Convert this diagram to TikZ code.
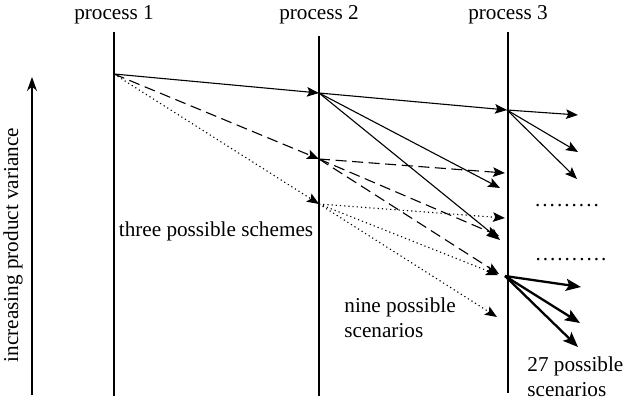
\documentclass[tikz,border=0pt]{standalone}
\usepackage{fontspec}
\setmainfont{Liberation Serif}
\usetikzlibrary{arrows.meta,positioning}
\newcommand{\dotrow}[1]{\foreach \k in {1,...,#1}{.\kern1.0pt}}
\tikzset{
  procline/.style={line width=0.7pt},
  lbl/.style={font=\fontsize{10.6}{12.5}\selectfont, inner sep=0pt},
  arr/.style={-{Stealth[length=6pt,width=4.8pt,inset=1.2pt]}, line width=0.55pt},
  dasharr/.style={arr, dash pattern=on 5.5pt off 2.8pt},
  dotarr/.style={arr, dash pattern=on 0.6pt off 1.5pt},
  boldarr/.style={-{Stealth[length=7.5pt,width=6pt,inset=1.5pt]}, line width=1.15pt},
  vararr/.style={-{Stealth[length=7pt,width=5pt]}, line width=0.75pt}
}
\begin{document}
\begin{tikzpicture}[x=0.5pt,y=-0.5pt]
    \useasboundingbox (0,0) rectangle (626,401);
    % process axes
    \node[lbl] (proc1) at (114,15) {process 1};
    \node[lbl] (proc2) at (319,15) {process 2};
    \node[lbl] (proc3) at (508,15) {process 3};
    \coordinate (p1top) at (114,32);
    \coordinate (p1bot) at (114,396);
    \coordinate (p2top) at (319,36);
    \coordinate (p2bot) at (319,396);
    \coordinate (p3top) at (508,32);
    \coordinate (p3bot) at (508,393);
    \draw[procline] (p1top) -- (p1bot);
    \draw[procline] (p2top) -- (p2bot);
    \draw[procline] (p3top) -- (p3bot);
    % variance axis
    \coordinate (varlo) at (32,395);
    \coordinate (varhi) at (32,77);
    \draw[vararr] (varlo) -- (varhi);
    \node[lbl, rotate=90] (varlbl) at (13,245) {increasing product variance};
    % branching points
    \coordinate (a1) at (114,74);
    \coordinate (b1) at (319,93);
    \coordinate (b2) at (319,159);
    \coordinate (b3) at (319,204);
    \coordinate (c1) at (507,110);
    \coordinate (c3) at (505,276);
    % arrow ends at process 3
    \coordinate (t12) at (500,188);
    \coordinate (t13) at (500,240);
    \coordinate (t21) at (505,173);
    \coordinate (t22) at (499,236);
    \coordinate (t23) at (499,274);
    \coordinate (t31) at (505,218);
    \coordinate (t32) at (498,275);
    \coordinate (t33) at (497,317);
    % arrow ends after process 3
    \coordinate (u1) at (578,115);
    \coordinate (u2) at (578,152);
    \coordinate (u3) at (577,179);
    \coordinate (v1) at (581,287);
    \coordinate (v2) at (580,323);
    \coordinate (v3) at (578,347);
    % process 1 -> process 2
    \draw[arr] (a1) -- (b1);
    \draw[dasharr] (a1) -- (b2);
    \draw[dotarr] (a1) -- (b3);
    % process 2 -> process 3
    \draw[arr] (b1) -- (c1);
    \draw[arr] (b1) -- (t12);
    \draw[arr] (b1) -- (t13);
    \draw[dasharr] (b2) -- (t21);
    \draw[dasharr] (b2) -- (t22);
    \draw[dasharr] (b2) -- (t23);
    \draw[dotarr] (b3) -- (t31);
    \draw[dotarr] (b3) -- (t32);
    \draw[dotarr] (b3) -- (t33);
    % process 3 -> onwards
    \draw[arr] (c1) -- (u1);
    \draw[arr] (c1) -- (u2);
    \draw[arr] (c1) -- (u3);
    \draw[boldarr] (c3) -- (v1);
    \draw[boldarr] (c3) -- (v2);
    \draw[boldarr] (c3) -- (v3);
    % labels
    \node[lbl] (schemes) at (216,231) {three possible schemes};
    \node[lbl, align=left, anchor=west] (nine) at (344,318) {nine possible\\scenarios};
    \node[lbl, align=left, anchor=west] (twentyseven) at (527,377) {27 possible\\scenarios};
    \node[lbl] (dotsA) at (568,206) {\dotrow{9}};
    \node[lbl] (dotsB) at (572,260) {\dotrow{10}};
\end{tikzpicture}
\end{document}
